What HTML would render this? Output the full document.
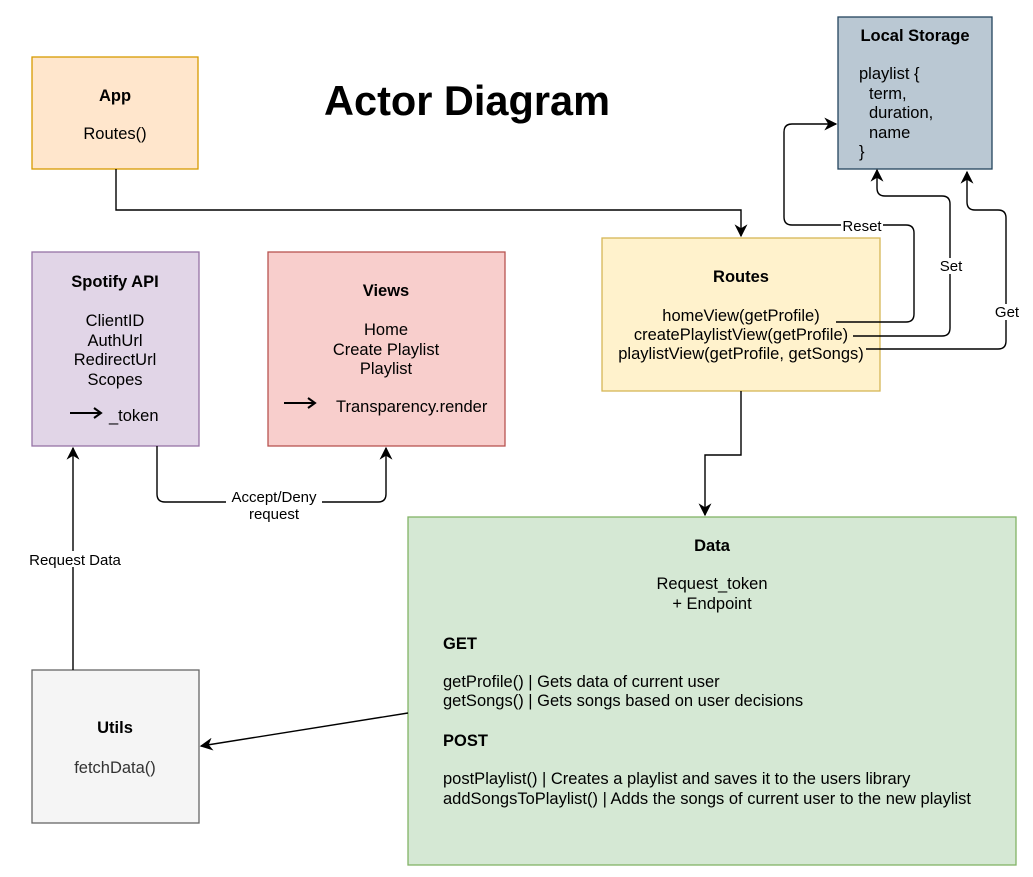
<!DOCTYPE html>
<html><head><meta charset="utf-8"><style>
html,body{margin:0;padding:0;background:#fff;}
svg{display:block;font-family:"Liberation Sans",Arial,sans-serif;}
</style></head><body>
<svg width="1033" height="877" viewBox="0 0 1033 877" xmlns="http://www.w3.org/2000/svg">
<defs>
<marker id="a" viewBox="0 0 10 10" refX="9" refY="5" markerWidth="13" markerHeight="13" markerUnits="userSpaceOnUse" orient="auto">
<path d="M0,0 L10,5 L0,10 L3,5 z" fill="#000"/></marker>
</defs>
<g stroke-width="1.3">
<rect x="32" y="57" width="166" height="112" fill="#ffe6cc" stroke="#d79b00"/>
<rect x="838" y="17" width="154" height="152" fill="#bac8d3" stroke="#23445d"/>
<rect x="32" y="252" width="167" height="194" fill="#e1d5e7" stroke="#9673a6"/>
<rect x="268" y="252" width="237" height="194" fill="#f8cecc" stroke="#b85450"/>
<rect x="602" y="238" width="278" height="153" fill="#fff2cc" stroke="#d6b656"/>
<rect x="408" y="517" width="608" height="348" fill="#d5e8d4" stroke="#82b366"/>
<rect x="32" y="670" width="167" height="153" fill="#f5f5f5" stroke="#666666"/>
</g>
<g fill="none" stroke="#000" stroke-width="1.4">
<path d="M116,169 V210 H741 V236" marker-end="url(#a)"/>
<path d="M836,322 H906 Q914,322 914,314 V233 Q914,225 906,225 H792 Q784,225 784,217 V132 Q784,124 792,124 H836" marker-end="url(#a)"/>
<path d="M853,336 H942 Q950,336 950,328 V204 Q950,196 942,196 H885 Q877,196 877,188 V170" marker-end="url(#a)"/>
<path d="M866,349 H998 Q1006,349 1006,341 V218 Q1006,210 998,210 H975 Q967,210 967,202 V172" marker-end="url(#a)"/>
<path d="M741,391 V455 H705 V515" marker-end="url(#a)"/>
<path d="M157,446 V494 Q157,502 165,502 H378 Q386,502 386,494 V448" marker-end="url(#a)"/>
<path d="M73,670 V448" marker-end="url(#a)"/>
<path d="M408,713 L201,746" marker-end="url(#a)"/>
</g>
<g fill="none" stroke="#000" stroke-width="2">
<path d="M70,413 H100"/><path d="M94,408 L101,413 L94,418"/>
<path d="M284,403 H314"/><path d="M308,398 L315,403 L308,408"/>
</g>
<g font-size="15" text-anchor="middle" fill="#000">
<rect x="841" y="218" width="42" height="15" fill="#fff"/>
<text x="862" y="231">Reset</text>
<rect x="937" y="258" width="28" height="16" fill="#fff"/>
<text x="951" y="271">Set</text>
<rect x="991" y="304" width="32" height="16" fill="#fff"/>
<text x="1007" y="317">Get</text>
<rect x="226" y="488" width="96" height="32" fill="#fff"/>
<text x="274" y="502">Accept/Deny</text>
<text x="274" y="519">request</text>
<rect x="26" y="551" width="100" height="16" fill="#fff"/>
<text x="75" y="565">Request Data</text>
</g>
<text x="467" y="115" font-size="41.5" font-weight="bold" text-anchor="middle">Actor Diagram</text>
<g font-size="16.5" text-anchor="middle">
<text x="115" y="101" font-weight="bold">App</text>
<text x="115" y="139">Routes()</text>
<text x="915" y="41" font-weight="bold">Local Storage</text>
<text x="115" y="287" font-weight="bold">Spotify API</text>
<text x="115" y="326">ClientID</text>
<text x="115" y="346">AuthUrl</text>
<text x="115" y="365">RedirectUrl</text>
<text x="115" y="385">Scopes</text>
<text x="386" y="296" font-weight="bold">Views</text>
<text x="386" y="335">Home</text>
<text x="386" y="355">Create Playlist</text>
<text x="386" y="374">Playlist</text>
<text x="741" y="282" font-weight="bold">Routes</text>
<text x="741" y="321">homeView(getProfile)</text>
<text x="741" y="340">createPlaylistView(getProfile)</text>
<text x="741" y="359">playlistView(getProfile, getSongs)</text>
<text x="712" y="551" font-weight="bold">Data</text>
<text x="712" y="589">Request_token</text>
<text x="712" y="609">+ Endpoint</text>
<text x="115" y="733" font-weight="bold">Utils</text>
<text x="115" y="773" fill="#333">fetchData()</text>
</g>
<g font-size="16.5">
<text x="109" y="421">_token</text>
<text x="336" y="412">Transparency.render</text>
<text x="859" y="79">playlist {</text>
<text x="869" y="99">term,</text>
<text x="869" y="118">duration,</text>
<text x="869" y="138">name</text>
<text x="859" y="157">}</text>
<text x="443" y="649" font-weight="bold">GET</text>
<text x="443" y="687">getProfile() | Gets data of current user</text>
<text x="443" y="706">getSongs() | Gets songs based on user decisions</text>
<text x="443" y="746" font-weight="bold">POST</text>
<text x="443" y="784">postPlaylist() | Creates a playlist and saves it to the users library</text>
<text x="443" y="804">addSongsToPlaylist() | Adds the songs of current user to the new playlist</text>
</g>
</svg>
</body></html>
